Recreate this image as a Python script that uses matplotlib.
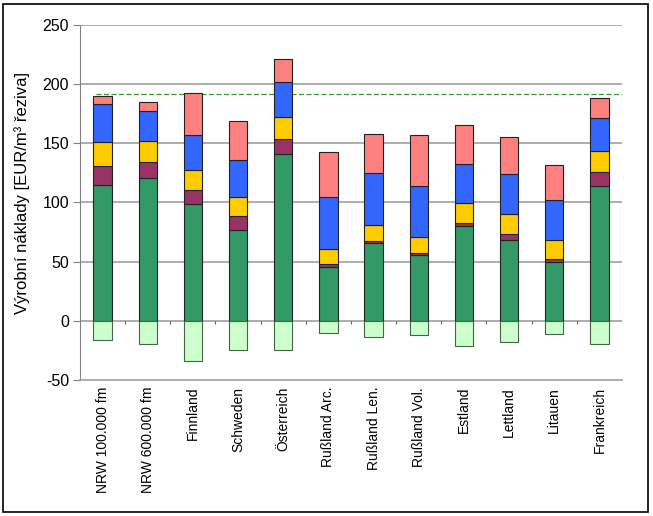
import numpy as np
import matplotlib
matplotlib.use("Agg")
import matplotlib.pyplot as plt
from matplotlib.patches import Rectangle

plt.rcParams['font.family'] = ['Liberation Sans', 'DejaVu Sans']

categories = ["NRW 100.000 fm", "NRW 600.000 fm", "Finnland", "Schweden",
              "Österreich", "Rußland Arc.", "Rußland Len.", "Rußland Vol.",
              "Estland", "Lettland", "Litauen", "Frankreich"]

# stacked cost components (EUR/m3), bottom to top
green = [114.6, 120.5, 98.5, 77.0, 140.6, 45.3, 65.4, 55.2, 80.1, 68.5, 49.8, 114.0]
purple = [16.1, 13.9, 11.9, 11.9, 13.1, 2.8, 1.9, 2.5, 2.8, 4.5, 2.2, 12.0]
yellow = [20.7, 17.6, 17.2, 16.1, 18.9, 12.7, 13.3, 13.3, 17.0, 17.0, 16.5, 17.2]
blue = [31.6, 25.4, 29.4, 30.5, 29.2, 43.9, 43.9, 43.3, 32.5, 34.0, 33.4, 28.3]
pink = [7.0, 7.4, 35.4, 33.1, 19.2, 38.2, 33.4, 43.0, 33.1, 31.3, 30.0, 17.0]
# revenue from by-products (negative)
credit = [-16.1, -19.5, -33.7, -24.6, -24.6, -10.5, -13.3, -12.2, -21.5, -17.5, -11.3, -19.5]

ref_level = 192

yticks = [-50, 0, 50, 100, 150, 200, 250]

series = [
    (green, "#339966"),
    (purple, "#993366"),
    (yellow, "#FFCC00"),
    (blue, "#3366FF"),
    (pink, "#FF8080"),
]

fig = plt.figure(figsize=(6.53, 5.16), dpi=100)
ax = fig.add_axes([0.1225, 0.2636, 0.83, 0.688])

x = np.arange(len(categories))
width = 0.405

for yv in yticks[1:]:
    ax.axhline(yv, color="#a0a0a0", lw=1.2, zorder=0)

bottom = np.zeros(len(categories))
for vals, col in series:
    ax.bar(x, vals, width, bottom=bottom, color=col, edgecolor="#222222",
           linewidth=0.8, zorder=3)
    bottom += np.array(vals)

ax.bar(x, credit, width, color="#CCFFCC", edgecolor="#446644",
       linewidth=0.8, zorder=3)

ax.hlines(ref_level, -0.15, len(categories) - 0.5, colors="#339933",
          linestyles=(0, (4, 2)), lw=0.9, zorder=2)

# small separator ticks on the zero line
ax.vlines(x + 0.5, -2.5, 0, colors="#606060", lw=0.8, zorder=1)

ax.set_xlim(-0.5, len(categories) - 0.5)
ax.set_ylim(-50, 250)
ax.set_yticks(yticks)
ax.set_yticklabels([str(v) for v in yticks], fontsize=11.5)
ax.set_xticks(x)
ax.set_xticklabels(categories, rotation=90, fontsize=10, va="top")
ax.tick_params(axis="x", length=0, pad=5)
ax.tick_params(axis="y", length=5, color="#808080", pad=3)

for side in ["top", "right"]:
    ax.spines[side].set_visible(False)
ax.spines["left"].set_color("#808080")
ax.spines["bottom"].set_color("#a0a0a0")
ax.spines["bottom"].set_linewidth(1.2)

ax.set_ylabel("Výrobní náklady [EUR/m³ řeziva]", fontsize=12)
ax.yaxis.set_label_coords(-0.092, 0.527)

fig.patches.append(Rectangle((3 / 653, 4 / 516), 645 / 653, 508 / 516,
                             transform=fig.transFigure, fill=False,
                             edgecolor="black", linewidth=1.2))

fig.savefig("out.png", dpi=100)
